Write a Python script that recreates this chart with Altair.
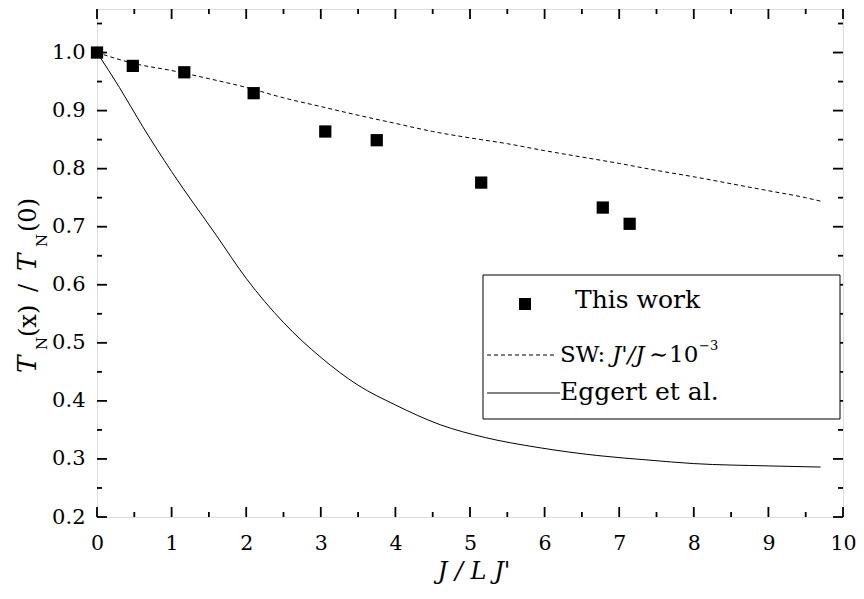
import altair as alt
import pandas as pd

# ---------------- data ----------------
work_x = [0.0, 0.48, 1.17, 2.10, 3.06, 3.75, 5.15, 6.78, 7.14]
work_y = [1.0, 0.977, 0.966, 0.930, 0.864, 0.849, 0.776, 0.733, 0.705]

sw_x = [0.0, 0.5, 1.0, 1.5, 2.0, 2.5, 3.0, 3.5, 4.0, 4.5, 5.0, 5.5, 6.0, 6.5, 7.0, 7.5, 8.0, 8.5, 9.0, 9.5, 9.7]
sw_y = [1.0, 0.981, 0.969, 0.955, 0.940, 0.922, 0.907, 0.892, 0.878, 0.864, 0.853, 0.843, 0.831, 0.820, 0.809, 0.797, 0.786, 0.774, 0.762, 0.750, 0.744]

egg_x = [0.0, 0.3, 0.61, 1.0, 1.6, 2.0, 2.5, 3.0, 3.5, 4.0, 4.6, 5.2, 5.9, 6.7, 7.4, 8.0, 9.0, 9.7]
egg_y = [1.0, 0.94, 0.873, 0.795, 0.685, 0.611, 0.535, 0.475, 0.427, 0.393, 0.359, 0.337, 0.320, 0.306, 0.298, 0.292, 0.288, 0.286]

x_major = [0, 1, 2, 3, 4, 5, 6, 7, 8, 9, 10]
x_minor = [0.5, 1.5, 2.5, 3.5, 4.5, 5.5, 6.5, 7.5, 8.5, 9.5]
y_major = [0.2, 0.3, 0.4, 0.5, 0.6, 0.7, 0.8, 0.9, 1.0]
y_minor = [0.25, 0.35, 0.45, 0.55, 0.65, 0.75, 0.85, 0.95, 1.05]

# ---------------- setup ----------------
W, H = 746, 508
FONT = "DejaVu Serif"

xs = alt.Scale(domain=[0, 10], nice=False, zero=False)
ys = alt.Scale(domain=[0.2, 1.075], nice=False, zero=False)

df_work = pd.DataFrame({"x": work_x, "y": work_y})
df_sw = pd.DataFrame({"x": sw_x, "y": sw_y})
df_egg = pd.DataFrame({"x": egg_x, "y": egg_y})
df_xmaj = pd.DataFrame({"x": x_major})
df_xmin = pd.DataFrame({"x": x_minor})
df_ymaj = pd.DataFrame({"y": y_major})
df_ymin = pd.DataFrame({"y": y_minor})

x_axis = alt.Axis(values=x_major, format="d", ticks=False, tickSize=0, domain=False,
                  grid=False, title=None, labelFont=FONT, labelFontSize=20.5,
                  labelColor="black", labelPadding=16, labelFlush=False)
y_axis = alt.Axis(values=y_major, format=".1f", ticks=False, tickSize=0, domain=False,
                  grid=False, title=None, labelFont=FONT, labelFontSize=21,
                  labelColor="black", labelPadding=12)

pts = alt.Chart(df_work).mark_square(size=150, color="black", opacity=1).encode(
    x=alt.X("x:Q", scale=xs, axis=x_axis),
    y=alt.Y("y:Q", scale=ys, axis=y_axis),
)

sw_line = alt.Chart(df_sw).mark_line(color="black", strokeWidth=1, strokeDash=[4, 3],
                                     interpolate="monotone").encode(
    x=alt.X("x:Q", scale=xs), y=alt.Y("y:Q", scale=ys)
)
egg_line = alt.Chart(df_egg).mark_line(color="black", strokeWidth=1,
                                       interpolate="monotone").encode(
    x=alt.X("x:Q", scale=xs), y=alt.Y("y:Q", scale=ys)
)

def xticks(df, y0, y1):
    return alt.Chart(df).mark_rule(color="black", strokeWidth=1.8).encode(
        x=alt.X("x:Q", scale=xs), y=alt.value(y0), y2=alt.value(y1))

def yticks(df, x0, x1):
    return alt.Chart(df).mark_rule(color="black", strokeWidth=1.8).encode(
        y=alt.Y("y:Q", scale=ys), x=alt.value(x0), x2=alt.value(x1))

ticks = [
    xticks(df_xmaj, H, H - 10), xticks(df_xmin, H, H - 5),
    xticks(df_xmaj, 0, 10), xticks(df_xmin, 0, 5),
    yticks(df_ymaj, 0, 10), yticks(df_ymin, 0, 5),
    yticks(df_ymaj, W, W - 10), yticks(df_ymin, W, W - 5),
]

one = alt.Data(values=[{}])

def txt(s, x, y, size, italic=False, angle=0, align="left", baseline="alphabetic"):
    kw = dict(text=s, font=FONT, fontSize=size, fontStyle="italic" if italic else "normal",
              align=align, baseline=baseline, color="black")
    if angle:
        kw["angle"] = angle
    return alt.Chart(one).mark_text(**kw).encode(x=alt.value(x), y=alt.value(y))

# axis titles
y_title = [
    txt("T", -61, 364, 26, italic=True, angle=270),
    txt("N", -50, 341, 15, angle=270),
    txt("(x)", -61, 328, 24, angle=270),
    txt("/", -61, 283, 24, angle=270),
    txt("T", -61, 262, 26, italic=True, angle=270),
    txt("N", -50, 238, 15, angle=270),
    txt("(0)", -61, 223, 24, angle=270),
]
x_title = [txt("J / L J'", 377, 570, 24, italic=True, align="center")]

# legend
legend_box = alt.Chart(one).mark_rect(fill="white", stroke="black", strokeWidth=1).encode(
    x=alt.value(386), x2=alt.value(743), y=alt.value(266), y2=alt.value(410))
legend_sq = alt.Chart(one).mark_square(size=144, color="black", opacity=1).encode(
    x=alt.value(428), y=alt.value(295))
legend_dash = alt.Chart(one).mark_rule(color="black", strokeWidth=1, strokeDash=[4, 3]).encode(
    x=alt.value(390), x2=alt.value(460), y=alt.value(346))
legend_solid = alt.Chart(one).mark_rule(color="black", strokeWidth=1).encode(
    x=alt.value(390), x2=alt.value(463), y=alt.value(384))
legend_txt = [
    txt("This work", 478, 299, 25),
    txt("SW:", 463, 353, 23),
    txt("J'/J", 515, 353, 23, italic=True),
    txt("\u223c", 552, 353, 23),
    txt("10", 572, 353, 23),
    txt("\u22123", 602, 341, 13),
    txt("Eggert et al.", 463, 391, 25),
]

chart = alt.layer(
    egg_line, sw_line, *ticks, pts,
    legend_box, legend_sq, legend_dash, legend_solid, *legend_txt,
    *y_title, *x_title,
).properties(
    width=W, height=H,
    autosize=alt.AutoSizeParams(type="none"),
    padding={"left": 89, "top": 1, "right": 13, "bottom": 71},
).configure_view(
    stroke="black", strokeWidth=2
).configure_text(
    font=FONT
).configure(background="white")

chart.save("out.html", embed_options={"renderer": "svg", "actions": False})
